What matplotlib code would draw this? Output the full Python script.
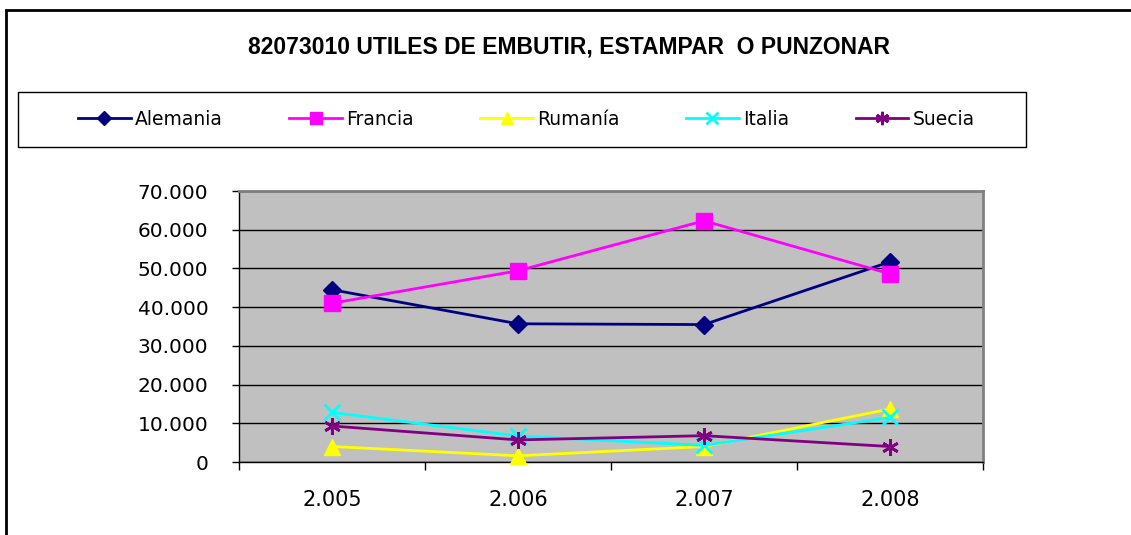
import matplotlib
matplotlib.use("Agg")
import os
import matplotlib.pyplot as plt
from matplotlib.patches import Rectangle
from matplotlib.ticker import FuncFormatter, FixedLocator
from matplotlib import font_manager as fm

years = ["2.005", "2.006", "2.007", "2.008"]
alemania = [44500, 35700, 35500, 51700]
francia = [41000, 49400, 62300, 48600]
rumania = [4000, 1600, 4000, 13700]
italia = [12800, 6700, 4300, 11500]
suecia = [9300, 5700, 6800, 4000]

series = [
    ("Alemania", alemania, "#000080", "D", 9),
    ("Francia", francia, "#FF00FF", "s", 11),
    ("Rumanía", rumania, "#FFFF00", "^", 11),
    ("Italia", italia, "#00FFFF", "x", 11),
    ("Suecia", suecia, "#800080", (6, 2, 0), 12),
]

# locate regular-width Liberation Sans Bold (avoid the Narrow variant)
title_font = None
for f in fm.findSystemFonts():
    if os.path.basename(f).lower() == "liberationsans-bold.ttf":
        title_font = fm.FontProperties(fname=f, size=16.5)
        break
if title_font is None:
    title_font = fm.FontProperties(family="DejaVu Sans", weight="bold", size=14.5)

W, H = 1131, 535
fig = plt.figure(figsize=(W / 100, H / 100), dpi=100)
fig.patch.set_facecolor("white")

# outer chart border (left and top visible)
fig.add_artist(Rectangle((6 / W, -0.05), 1.2, (H - 10) / H + 0.05, transform=fig.transFigure,
                         fill=False, edgecolor="black", linewidth=2))

ax = fig.add_axes([239 / W, (H - 462) / H, (983 - 239) / W, (462 - 191) / H])
ax.set_facecolor("#C0C0C0")
x = list(range(len(years)))
handles = []
for name, vals, col, mk, ms in series:
    mew = 2 if mk in ("x",) or isinstance(mk, tuple) else 1
    h, = ax.plot(x, vals, color=col, linewidth=2, marker=mk, markersize=ms,
                 markerfacecolor=col, markeredgecolor=col, markeredgewidth=mew, label=name,
                 clip_on=False, zorder=3)
    handles.append(h)

ax.set_xlim(-0.5, 3.5)
ax.set_ylim(0, 70000)
ax.yaxis.set_major_locator(FixedLocator(range(0, 70001, 10000)))
ax.yaxis.set_major_formatter(FuncFormatter(lambda v, p: "0" if v == 0 else f"{int(v):,}".replace(",", ".")))
ax.grid(axis="y", color="black", linewidth=1, zorder=1)
ax.set_axisbelow(True)
ax.set_xticks(x)
ax.set_xticklabels(years)
ax.set_xticks([-0.5, 0.5, 1.5, 2.5, 3.5], minor=True)
ax.tick_params(axis="x", which="major", length=0, pad=20, labelsize=15)
ax.tick_params(axis="x", which="minor", length=6, width=1, color="black")
ax.tick_params(axis="y", length=5, width=1, pad=17, labelsize=14.5, direction="out")
for lbl in ax.get_yticklabels() + ax.get_xticklabels():
    lbl.set_fontfamily("DejaVu Sans")
for s in ("top", "right"):
    ax.spines[s].set_color("#808080")
    ax.spines[s].set_linewidth(2)
for s in ("left", "bottom"):
    ax.spines[s].set_color("black")
    ax.spines[s].set_linewidth(1)

fig.text(569 / W, 1 - 47 / H, "82073010 UTILES DE EMBUTIR, ESTAMPAR  O PUNZONAR",
         ha="center", va="center", fontproperties=title_font)

# legend box
fig.add_artist(Rectangle((18 / W, 1 - 147 / H), (1026 - 18) / W, (147 - 92) / H,
                         transform=fig.transFigure, fill=False, edgecolor="black", linewidth=1))
leg = fig.legend(handles=handles, loc="center", ncol=5, frameon=False,
                 bbox_to_anchor=(78 / W, 1 - 147 / H, (975 - 78) / W, (147 - 92) / H),
                 mode="expand", prop={"family": "DejaVu Sans", "size": 13.5},
                 handlelength=2.8, handletextpad=0.25, borderaxespad=0, borderpad=0,
                 markerscale=0.8)

fig.savefig("out.png", dpi=100, facecolor="white")
